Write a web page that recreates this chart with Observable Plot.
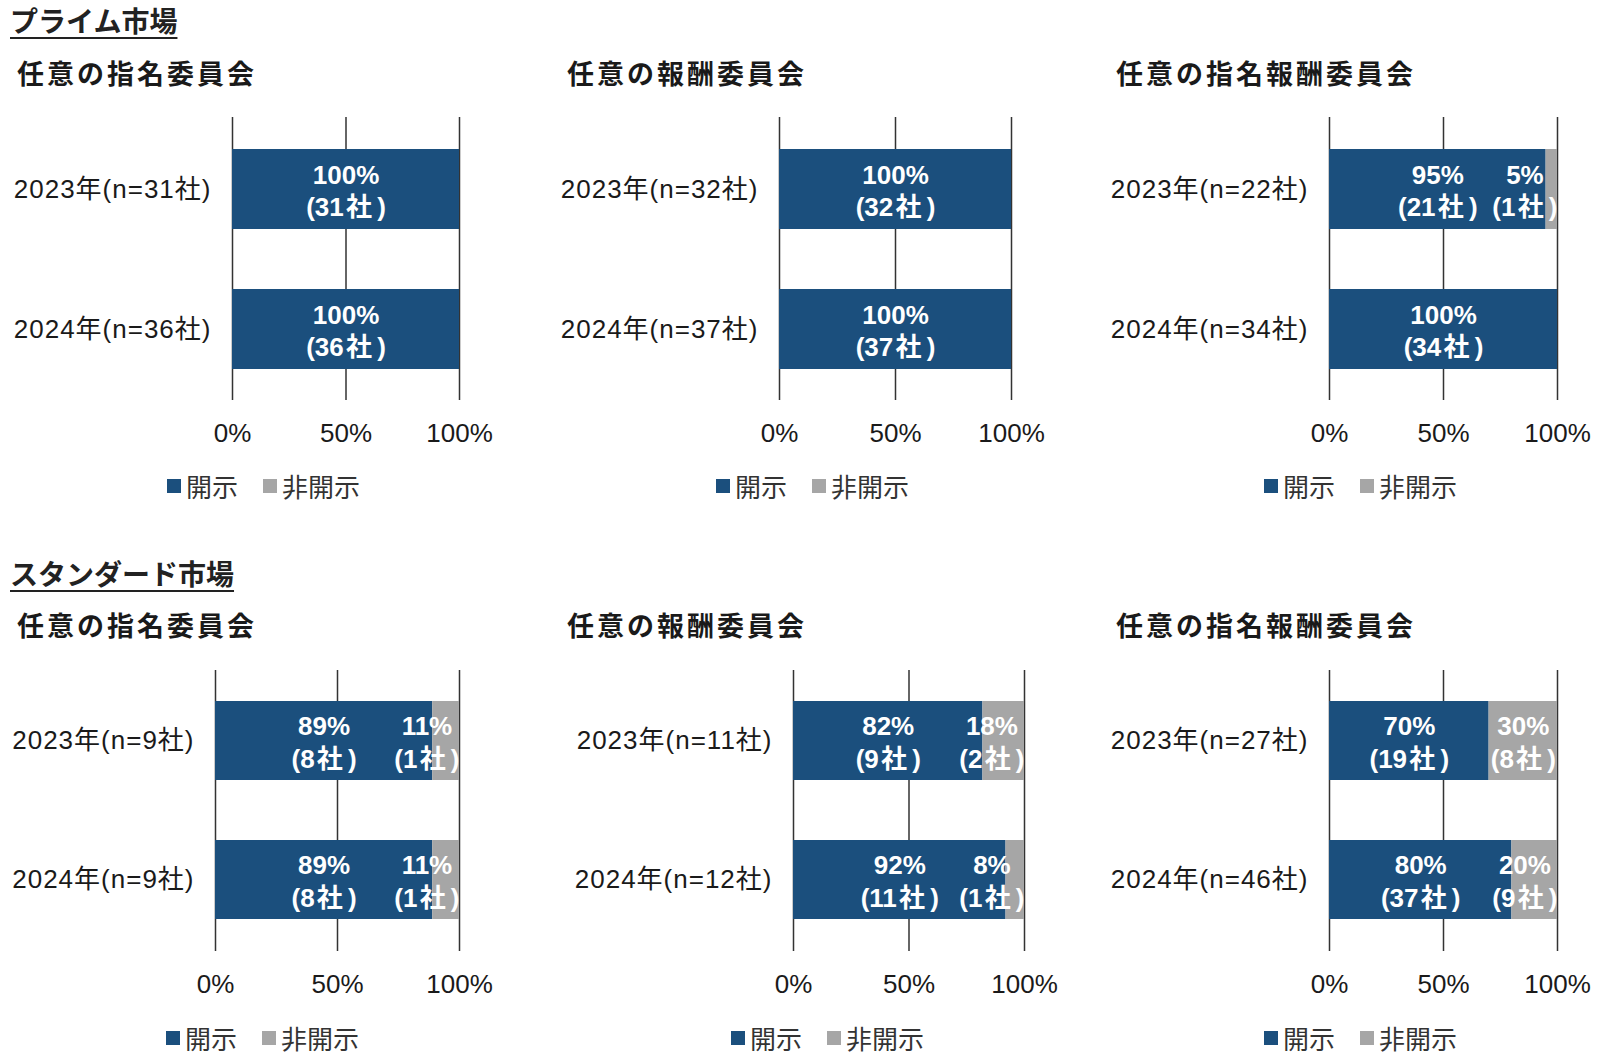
<!DOCTYPE html>
<html>
<head>
<meta charset="utf-8">
<script src="https://cdn.jsdelivr.net/npm/d3@7"></script>
<script src="https://cdn.jsdelivr.net/npm/@observablehq/plot@0.6"></script>
<style>
  html, body { margin: 0; padding: 0; background: #ffffff; overflow: hidden; }
  #root { position: relative; width: 1600px; height: 1053px;
          font-family: "Liberation Sans", "Noto Sans CJK JP", sans-serif; color: #1a1a1a; }
  .abs { position: absolute; white-space: nowrap; }
  .sec { font-family: "Noto Sans CJK JP", sans-serif; font-weight: bold; font-size: 28px; line-height: 28px;
         text-decoration: underline; text-decoration-thickness: 2px; text-underline-offset: 5px; color: #222; }
  .ttl { font-family: "Noto Sans CJK JP", sans-serif; font-weight: bold; font-size: 27px; line-height: 27px;
         letter-spacing: 3px; color: #1a1a1a; }
  .leg { font-family: "Noto Sans CJK JP", sans-serif; font-size: 26px; line-height: 26px; color: #333;
         display: flex; align-items: center; }
  .leg .sw { display: inline-block; width: 14px; height: 14px; margin-right: 5px; }
  .leg .lab { margin-right: 25px; }
  .panel svg { overflow: visible; max-width: none !important; }
  .panel g[aria-label="y-axis tick label"] text { letter-spacing: 1px; }
</style>
</head>
<body>
<div id="root"></div>
<script>
// ---------------- data ----------------
const marketNames = ["プライム市場", "スタンダード市場"];
const committeeNames = ["任意の指名委員会", "任意の報酬委員会", "任意の指名報酬委員会"];
const yearLabels = ["2023年", "2024年"];
const seriesNames = ["開示", "非開示"];
const seriesColors = ["#1b4f7d", "#a6a6a6"];
const tickValues = [0, 0.5, 1];
const tickLabels = ["0%", "50%", "100%"];
// indexed [market][committee][year]
const totalCompanies = [[[31, 36], [32, 37], [22, 34]], [[9, 9], [11, 12], [27, 46]]];
const disclosedCompanies = [[[31, 36], [32, 37], [21, 34]], [[8, 8], [9, 11], [19, 37]]];
const undisclosedCompanies = [[[0, 0], [0, 0], [1, 0]], [[1, 1], [2, 1], [8, 9]]];
const disclosedPct = [[[100, 100], [100, 100], [95, 100]], [[89, 89], [82, 92], [70, 80]]];
const undisclosedPct = [[[0, 0], [0, 0], [5, 0]], [[11, 11], [18, 8], [30, 20]]];

// ---------------- layout ----------------
const ZERO_X = [[232, 779, 1329], [215, 793, 1329]];
const FULL_X = [[459, 1011, 1557], [459, 1024, 1557]];
const GRID_TOP = [117, 670];
const GRID_BOTTOM = [400, 951];
const SECTION_Y = [20, 573];
const TITLE_Y = [72, 624];
const TITLE_X = [17, 567, 1116];
const LEGEND_Y = [486, 1038];
const LEGEND_X = [[167, 716, 1264], [166, 731, 1264]];
const FONT = '"Liberation Sans", "Noto Sans CJK JP", sans-serif';
const LABEL_FONT_SIZE = 26;

const root = document.getElementById("root");
const canvas = document.createElement("canvas");
const ctx = canvas.getContext("2d");
ctx.font = `bold ${LABEL_FONT_SIZE}px ${FONT}`;

function addDiv(cls, html, x, yc, fs) {
  const d = document.createElement("div");
  d.className = "abs " + cls;
  d.innerHTML = html;
  d.style.left = x + "px";
  d.style.top = (yc - fs / 2) + "px";
  root.appendChild(d);
  return d;
}

function panel(m, c) {
  const x0 = ZERO_X[m][c], x1 = FULL_X[m][c], gt = GRID_TOP[m], gb = GRID_BOTTOM[m];
  const mL = 240, mR = 40, mT = 10, mB = 60;
  const plotW = x1 - x0;
  const width = plotW + mL + mR;
  const height = (gb - gt) + mT + mB;
  const cats = yearLabels.map((y, j) => `${y}(n=${totalCompanies[m][c][j]}社)`);
  const segs = [];
  cats.forEach((cat, j) => {
    const vals = [disclosedPct[m][c][j], undisclosedPct[m][c][j]];
    const cnts = [disclosedCompanies[m][c][j], undisclosedCompanies[m][c][j]];
    let acc = 0;
    vals.forEach((v, k) => {
      if (v > 0) {
        const a = acc / 100, b = (acc + v) / 100;
        const lines = [`${v}%`, `(${cnts[k]}\u200a社\u2009)`];
        const w = Math.max(...lines.map(t => ctx.measureText(t).width));
        const half = (w / 2) / plotW;
        const mid = (a + b) / 2;
        const lx = Math.max(half, Math.min(mid, 1 - half));
        segs.push({cat, series: seriesNames[k], x1: a, x2: b, lx, label: lines.join("\n")});
      }
      acc += v;
    });
  });

  const chart = Plot.plot({
    width, height,
    marginLeft: mL, marginRight: mR, marginTop: mT, marginBottom: mB,
    x: {domain: [0, 1]},
    y: {domain: cats, paddingInner: 0.4286, paddingOuter: 0.225},
    color: {domain: seriesNames, range: seriesColors},
    style: {fontFamily: FONT, color: "#1a1a1a", background: "transparent", overflow: "visible", maxWidth: "none"},
    marks: [
      Plot.ruleX(tickValues, {stroke: "#333333", strokeWidth: 1.5}),
      Plot.barX(segs, {x1: "x1", x2: "x2", y: "cat", fill: "series"}),
      Plot.text(segs, {x: "lx", y: "cat", text: "label", fill: "white", fontSize: LABEL_FONT_SIZE,
                       fontWeight: "bold", lineHeight: 1.25}),
      Plot.axisX(tickValues, {tickSize: 0, tickPadding: 23, fontSize: 26, label: null,
                              tickFormat: d => tickLabels[tickValues.indexOf(d)]}),
      Plot.axisY({tickSize: 0, tickPadding: 21, fontSize: 26, label: null})
    ]
  });
  const wrap = document.createElement("div");
  wrap.className = "abs panel";
  wrap.style.left = (x0 - mL) + "px";
  wrap.style.top = (gt - mT) + "px";
  wrap.style.width = width + "px";
  wrap.style.height = height + "px";
  wrap.appendChild(chart);
  root.appendChild(wrap);

  // panel title
  addDiv("ttl", committeeNames[c], TITLE_X[c], TITLE_Y[m], 27);
  // legend
  const leg = seriesNames.map((s, k) =>
    `<span class="sw" style="background:${seriesColors[k]}"></span><span class="lab">${s}</span>`).join("");
  addDiv("leg", leg, LEGEND_X[m][c], LEGEND_Y[m], 26);
}

marketNames.forEach((name, m) => {
  addDiv("sec", name, 10, SECTION_Y[m], 28);
  committeeNames.forEach((_, c) => panel(m, c));
});
</script>
</body>
</html>
